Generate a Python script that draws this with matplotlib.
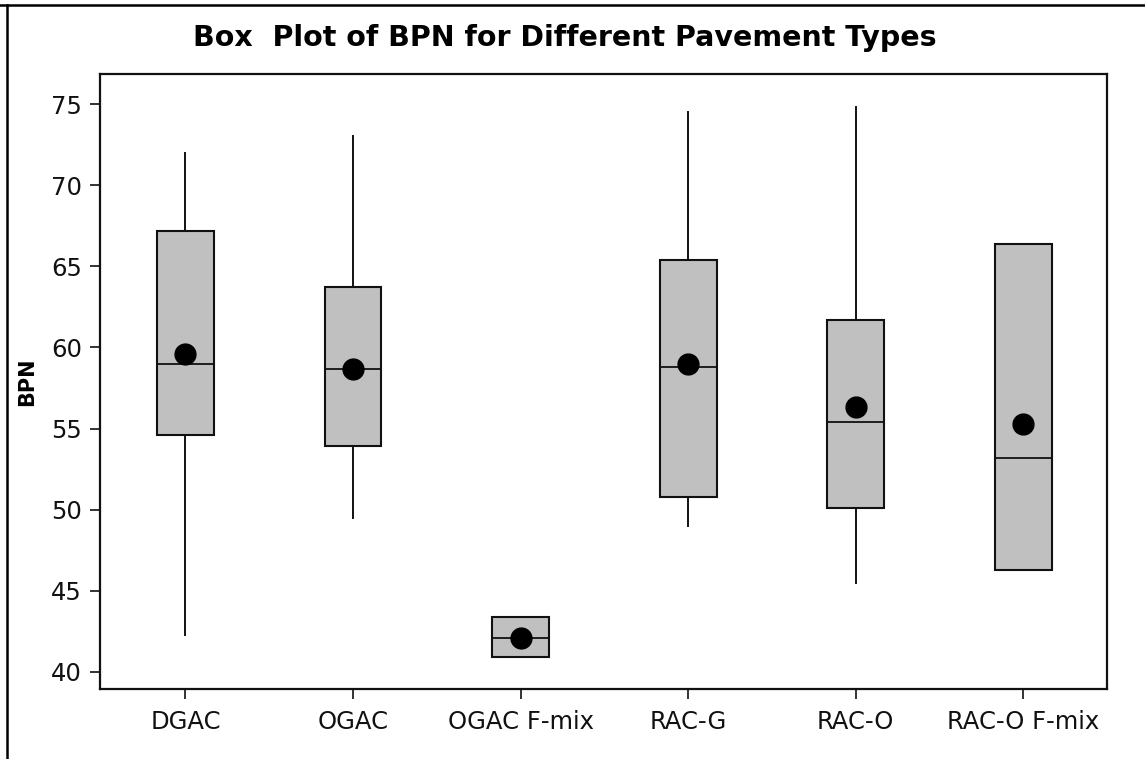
import matplotlib
matplotlib.use("Agg")
import matplotlib.pyplot as plt
from matplotlib.lines import Line2D

categories = ["DGAC", "OGAC", "OGAC F-mix", "RAC-G", "RAC-O", "RAC-O F-mix"]
whisker_low = [42.3, 49.5, 40.9, 49.0, 45.5, 46.3]
q1 = [54.6, 53.9, 40.9, 50.8, 50.1, 46.3]
median = [59.0, 58.7, 42.1, 58.8, 55.4, 53.2]
q3 = [67.2, 63.7, 43.4, 65.4, 61.7, 66.4]
whisker_high = [72.0, 73.0, 43.4, 74.5, 74.8, 66.4]
mean = [59.6, 58.7, 42.1, 59.0, 56.3, 55.3]
y_ticks = [40, 45, 50, 55, 60, 65, 70, 75]

W, H = 1145, 759
fig = plt.figure(figsize=(W / 100, H / 100), dpi=100)
ax = fig.add_axes([100 / W, (H - 689) / H, (1107 - 100) / W, (689 - 74) / H])

stats = []
for i, c in enumerate(categories):
    stats.append(dict(label=c, whislo=whisker_low[i], q1=q1[i], med=median[i],
                      q3=q3[i], whishi=whisker_high[i], mean=mean[i], fliers=[]))

positions = list(range(1, len(categories) + 1))
ax.bxp(stats, positions=positions, widths=0.34, patch_artist=True,
       showcaps=False, showfliers=False, showmeans=False,
       boxprops=dict(facecolor="#c0c0c0", edgecolor="#111111", linewidth=1.5),
       medianprops=dict(color="#111111", linewidth=1.3),
       whiskerprops=dict(color="#111111", linewidth=1.4))
ax.plot(positions, mean, "o", color="black", markersize=15, zorder=5)

ax.set_xlim(0.49, 6.5)
ax.set_ylim(38.95, 76.85)
ax.set_yticks(y_ticks)
ax.set_yticklabels([str(t) for t in y_ticks])
ax.set_xticks(positions)
ax.set_xticklabels(categories)
ax.tick_params(axis="both", direction="out", length=7, width=1.2, labelsize=17.5,
               color="#111111", labelcolor="#111111")
ax.tick_params(axis="y", pad=6)
ax.tick_params(axis="x", pad=8)
for s in ax.spines.values():
    s.set_linewidth(1.6)
    s.set_color("#111111")

ax.set_ylabel("BPN", fontsize=15, fontweight="bold", labelpad=10)

fig.text(565 / W, 1 - 38 / H, "Box  Plot of BPN for Different Pavement Types",
         ha="center", va="center", fontsize=20.5, fontweight="bold")

# outer frame lines (top and left)
fig.add_artist(Line2D([0, 1], [1 - 5 / H, 1 - 5 / H], transform=fig.transFigure,
                      color="black", linewidth=1.8))
fig.add_artist(Line2D([7 / W, 7 / W], [0, 1 - 5 / H], transform=fig.transFigure,
                      color="black", linewidth=1.8))

fig.savefig("out.png", dpi=100)
